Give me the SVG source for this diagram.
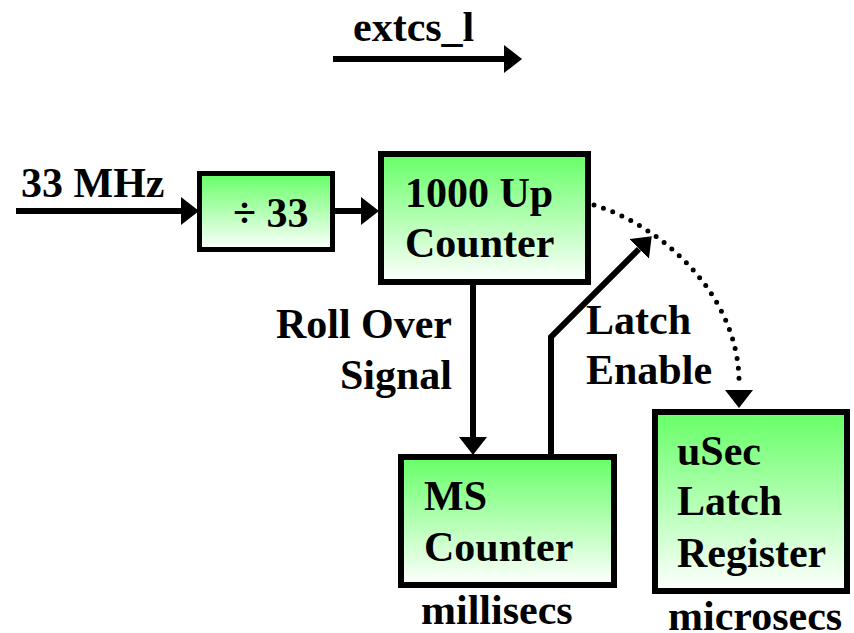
<svg xmlns="http://www.w3.org/2000/svg" width="854" height="633" viewBox="0 0 854 633">
<defs>
<linearGradient id="g" x1="0" y1="0" x2="0" y2="1">
<stop offset="0" stop-color="#66ff66"/>
<stop offset="1" stop-color="#ffffff"/>
</linearGradient>
<marker id="ah" viewBox="0 0 18 28" refX="0" refY="14" markerWidth="18" markerHeight="28" markerUnits="userSpaceOnUse" orient="auto">
<path d="M0,0 L18,14 L0,28 z" fill="#000"/>
</marker>
<style>
.box{fill:url(#g);stroke:#000;stroke-width:6}
.c{fill:none;stroke:#000;stroke-width:6;marker-end:url(#ah)}
.d{fill:none;stroke:#000;stroke-width:5;stroke-linecap:round;stroke-dasharray:0 10;}
</style>
</defs>
<rect width="854" height="633" fill="#fff"/>
<g id="connectors">
<path class="c" d="M333,59 H504"/>
<path class="c" d="M16,211 H181"/>
<path class="c" d="M335,211 H361"/>
<path class="c" d="M473,285 V437"/>
<path class="c" d="M551,457 V337 L639,249"/>
<path class="d" d="M594,205 C660,225 742,295 739,388"/>
<path d="M725,390 L739,408 L753,390 z" fill="#000"/>
</g>
<g font-family="'Liberation Serif', Tinos, 'Times New Roman', 'DejaVu Serif', serif" font-weight="bold" font-size="42" fill="#000">
<g id="extcs_l"><text x="353" y="41">extcs_l</text></g>
<g id="clock"><text x="21" y="197">33 MHz</text></g>
<g id="div33">
<rect class="box" x="199.5" y="173.5" width="133" height="76" style="stroke-width:5"/>
<text x="233" y="227">÷ 33</text>
</g>
<g id="upcounter">
<rect class="box" x="381" y="154" width="207" height="128"/>
<text x="405" y="207">1000 Up</text>
<text x="405" y="257">Counter</text>
</g>
<g id="rollover">
<text x="452" y="338" text-anchor="end">Roll Over</text>
<text x="452" y="389" text-anchor="end">Signal</text>
</g>
<g id="latchenable">
<text x="586" y="334">Latch</text>
<text x="586" y="384">Enable</text>
</g>
<g id="mscounter">
<rect class="box" x="401" y="457" width="213" height="128"/>
<text x="424" y="510">MS</text>
<text x="424" y="561">Counter</text>
<text x="421" y="624">millisecs</text>
</g>
<g id="usec">
<rect class="box" x="655" y="412" width="192" height="179"/>
<text x="677" y="465">uSec</text>
<text x="677" y="515">Latch</text>
<text x="677" y="567">Register</text>
<text x="668" y="630">microsecs</text>
</g>
</g>
</svg>
